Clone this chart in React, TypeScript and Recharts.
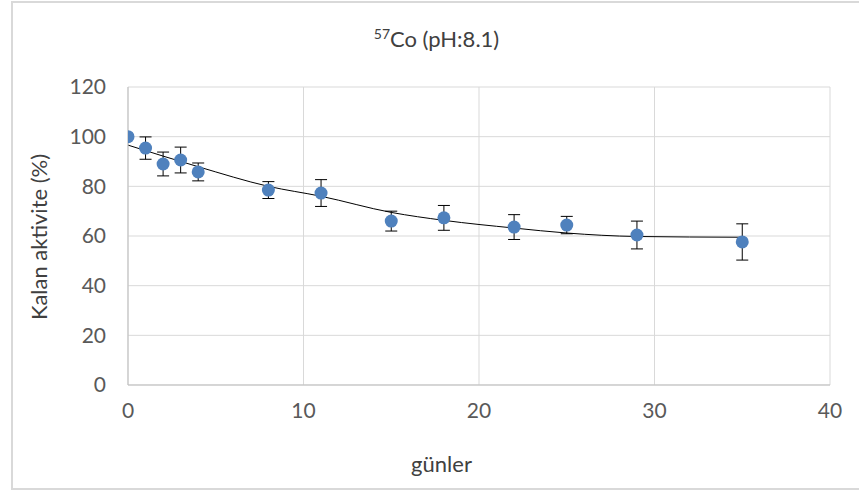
import React from 'react';
import { ComposedChart, Scatter, Line, ErrorBar, XAxis, YAxis, CartesianGrid } from 'recharts';

// measurement days and remaining activity (%)
const days = [0, 1, 2, 3, 4, 8, 11, 15, 18, 22, 25, 29, 35];
const activity = [100, 95.4, 89, 90.6, 85.8, 78.5, 77.3, 66, 67.3, 63.6, 64.4, 60.4, 57.6];
const activityErr = [0, 4.5, 4.8, 5.2, 3.6, 3.4, 5.4, 4, 5, 5, 3.5, 5.6, 7.3];

// polynomial trend curve sampled along the x axis
const trendDays = [0, 4, 8, 11, 15, 18, 22, 25, 29, 35];
const trendValues = [96.6, 87.9, 80.0, 76.0, 69.5, 66.3, 63.2, 61.2, 59.8, 59.5];

const xTicks = [0, 10, 20, 30, 40];
const yTicks = [0, 20, 40, 60, 80, 100, 120];

const points = days.map((d, i) => ({ day: d, value: activity[i], err: activityErr[i] }));
const trend = trendDays.map((d, i) => ({ day: d, fit: trendValues[i] }));

const font = 'Lato, "Open Sans", sans-serif';
const textColor = '#595959';

const Dot = (props: any) => {
    const { cx, cy } = props;
    if (cx == null || cy == null) return null;
    return <circle cx={cx} cy={cy} r={6.5} fill="#4F81BD" />;
};

const App: React.FC = () => {
    return (
        <div style={{ position: 'fixed', left: 0, top: 0, width: 859, height: 493, overflow: 'hidden', background: '#fff' }}>
            <div style={{ position: 'absolute', left: 0, width: 859, top: 25, textAlign: 'center', fontFamily: font, fontSize: 22, color: '#404040', paddingLeft: 14, boxSizing: 'border-box' }}>
                <sup style={{ fontSize: 14 }}>57</sup>Co (pH:8.1)
            </div>
            <div style={{ position: 'absolute', left: 0, width: 859, top: 450, textAlign: 'center', fontFamily: font, fontSize: 22, color: '#404040', paddingLeft: 24, boxSizing: 'border-box' }}>
                günler
            </div>
            <div style={{ position: 'absolute', left: 38, top: 237, transform: 'translate(-50%, -50%) rotate(-90deg)', whiteSpace: 'nowrap', fontFamily: font, fontSize: 22, color: '#404040' }}>
                Kalan aktivite (%)
            </div>
            <div style={{ position: 'absolute', left: 0, top: 0 }}>
                <ComposedChart width={859} height={493} margin={{ top: 87, right: 29, bottom: 78, left: 68 }}>
                    <CartesianGrid stroke="#d9d9d9" strokeWidth={1} />
                    <XAxis
                        type="number"
                        dataKey="day"
                        domain={[0, 40]}
                        ticks={xTicks}
                        height={30}
                        tickLine={false}
                        axisLine={{ stroke: '#bfbfbf' }}
                        tick={{ fill: textColor, fontSize: 21, fontFamily: font }}
                        tickMargin={12}
                        allowDataOverflow
                    />
                    <YAxis
                        type="number"
                        domain={[0, 120]}
                        ticks={yTicks}
                        width={60}
                        tickLine={false}
                        axisLine={{ stroke: '#bfbfbf' }}
                        tick={{ fill: textColor, fontSize: 21, fontFamily: font }}
                        tickMargin={16}
                        allowDataOverflow
                    />
                    <Line
                        data={trend}
                        dataKey="fit"
                        type="monotone"
                        stroke="#000"
                        strokeWidth={1}
                        dot={false}
                        activeDot={false}
                        isAnimationActive={false}
                    />
                    <Scatter data={points} dataKey="value" shape={<Dot />} isAnimationActive={false}>
                        <ErrorBar dataKey="err" direction="y" width={6} stroke="#000" strokeWidth={1} isAnimationActive={false} />
                    </Scatter>
                </ComposedChart>
            </div>
            {/* chart frame */}
            <div style={{ position: 'absolute', left: 11, top: 1, width: 860, height: 485, border: '2px solid #d9d9d9', pointerEvents: 'none' }} />
        </div>
    );
};

export default App;
